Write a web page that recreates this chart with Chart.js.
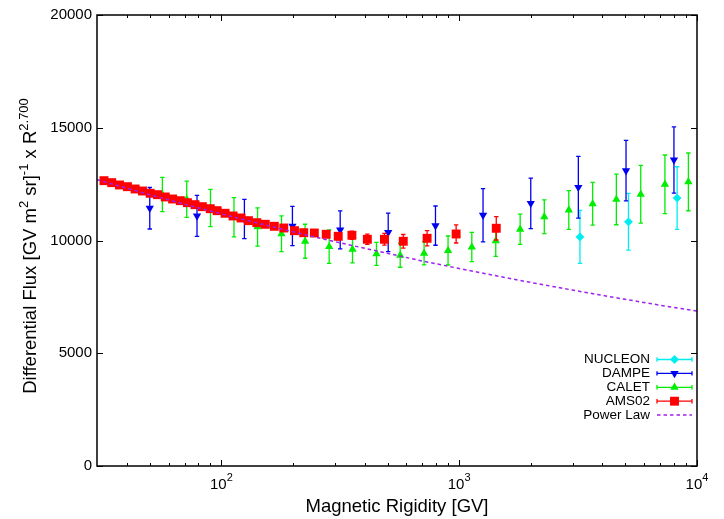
<!DOCTYPE html>
<html>
<head>
<meta charset="utf-8">
<script src="https://cdn.jsdelivr.net/npm/chart.js@4.4.0/dist/chart.umd.min.js"></script>
<style>
  html, body { margin: 0; padding: 0; background: #fff; }
  #wrap { width: 724px; height: 519px; }
</style>
</head>
<body>
<div id="wrap"><canvas id="fluxChart" width="724" height="519"></canvas></div>
<script>
// values (rigidity in GV, flux x R^2.7)
const amsR = [32.1, 34.6, 37.3, 40.3, 43.4, 46.6, 50.2, 53.9, 58.1, 62.4, 67.2, 72.0, 77.5, 83.2, 89.8, 96.0,
              103.7, 112, 121, 130, 141, 153, 167, 183, 203, 222, 246, 276, 310, 354, 411, 485, 582, 733, 971, 1432];
const amsF = [12653, 12565, 12462, 12387, 12285, 12196, 12094, 12032, 11930, 11841, 11766, 11677, 11589, 11500, 11411, 11323,
              11207, 11088, 10999, 10879, 10790, 10719, 10630, 10555, 10435, 10347, 10333, 10276, 10187, 10232, 10054, 10054, 9966, 10098, 10289, 10542];
const amsErr = [70, 70, 70, 70, 70, 70, 75, 75, 75, 80, 80, 80, 85, 85, 90, 90,
                95, 100, 100, 105, 110, 115, 120, 125, 130, 135, 140, 150, 160, 180, 230, 260, 300, 340, 400, 520];

const caletR = [56.5, 71.5, 90, 113, 142, 179, 225, 284, 356, 449, 565, 712, 898, 1130, 1425, 1805, 2280, 2890, 3640, 4580, 5800, 7330, 9200];
const caletF = [12040, 11830, 11440, 11030, 10600, 10300, 9966, 9726, 9611, 9411, 9345, 9430, 9557, 9710, 9990, 10500, 11050, 11350, 11630, 11820, 12050, 12490, 12600];
const caletErr = [760, 806, 828, 872, 850, 790, 754, 739, 600, 510, 532, 510, 643, 650, 690, 674, 749, 861, 950, 1122, 1280, 1302, 1280];

const dampeR = [50, 79, 125, 199, 316, 503, 795, 1260, 2000, 3170, 5030, 8000];
const dampeF = [11430, 11090, 10950, 10640, 10470, 10360, 10660, 11120, 11650, 12360, 13100, 13570];
const dampeErr = [920, 910, 870, 870, 840, 850, 870, 1180, 1120, 1370, 1340, 1470];

const nucleonR = [3220, 5150, 8250];
const nucleonF = [10160, 10830, 11880];
const nucleonErr = [1175, 1257, 1391];

const powerR = [30, 40, 50, 70, 100, 150, 200, 300, 500, 700, 1000, 1500, 2000, 3000, 5000, 7000, 10000];
const powerF = [12700, 12320, 12030, 11610, 11180, 10710, 10390, 9950, 9430, 9090, 8760, 8390, 8140, 7800, 7390, 7130, 6870];

const yTicks = [0, 5000, 10000, 15000, 20000];
const xMajorTicks = [100, 1000, 10000];
const xMajorLabels = ['2', '3', '4'];
const xMinorTicks = [40, 50, 60, 70, 80, 90, 200, 300, 400, 500, 600, 700, 800, 900,
                     2000, 3000, 4000, 5000, 6000, 7000, 8000, 9000];

const FONT = '"Liberation Sans", Arial, Helvetica, sans-serif';

function pts(xs, ys) {
  return xs.map((x, i) => ({ x: x, y: ys[i] }));
}

// error bars, drawn just before each dataset's own markers
const errorBars = {
  id: 'errorBars',
  beforeDatasetDraw(chart, args) {
    const ds = chart.data.datasets[args.index];
    if (!ds.errors) return;
    const ctx = chart.ctx;
    const xs = chart.scales.x, ys = chart.scales.y;
    ctx.save();
    ctx.strokeStyle = ds.borderColor;
    ctx.lineWidth = 1.3;
    ds.data.forEach((p, i) => {
      const e = ds.errors[i];
      const px = xs.getPixelForValue(p.x);
      const top = ys.getPixelForValue(p.y + e);
      const bot = ys.getPixelForValue(p.y - e);
      ctx.beginPath();
      ctx.moveTo(px, top); ctx.lineTo(px, bot);
      ctx.moveTo(px - 2.2, top); ctx.lineTo(px + 2.2, top);
      ctx.moveTo(px - 2.2, bot); ctx.lineTo(px + 2.2, bot);
      ctx.stroke();
    });
    ctx.restore();
  }
};

// gnuplot-like frame, inward ticks, x labels with exponents, axis titles and key
const frame = {
  id: 'frame',
  afterDraw(chart) {
    const ctx = chart.ctx;
    const ca = chart.chartArea;
    const xs = chart.scales.x, ys = chart.scales.y;
    ctx.save();
    ctx.strokeStyle = '#000';
    ctx.lineWidth = 1;
    ctx.beginPath();
    yTicks.forEach(v => {
      const py = Math.round(ys.getPixelForValue(v)) + 0.5;
      ctx.moveTo(ca.left, py); ctx.lineTo(ca.left + 6, py);
      ctx.moveTo(ca.right, py); ctx.lineTo(ca.right - 6, py);
    });
    xMajorTicks.forEach(v => {
      const px = Math.round(xs.getPixelForValue(v)) + 0.5;
      ctx.moveTo(px, ca.bottom); ctx.lineTo(px, ca.bottom - 6);
      ctx.moveTo(px, ca.top); ctx.lineTo(px, ca.top + 6);
    });
    xMinorTicks.forEach(v => {
      const px = Math.round(xs.getPixelForValue(v)) + 0.5;
      ctx.moveTo(px, ca.bottom); ctx.lineTo(px, ca.bottom - 3);
      ctx.moveTo(px, ca.top); ctx.lineTo(px, ca.top + 3);
    });
    ctx.stroke();
    ctx.lineWidth = 1.5;
    ctx.strokeRect(ca.left, ca.top, ca.right - ca.left, ca.bottom - ca.top);

    // x tick labels 10^n
    ctx.fillStyle = '#000';
    ctx.textBaseline = 'middle';
    ctx.textAlign = 'left';
    xMajorTicks.forEach((v, i) => {
      const px = xs.getPixelForValue(v);
      ctx.font = '15px ' + FONT;
      const wb = ctx.measureText('10').width;
      ctx.font = '11px ' + FONT;
      const we = ctx.measureText(xMajorLabels[i]).width;
      const x0 = px - (wb + we) / 2;
      ctx.font = '15px ' + FONT;
      ctx.fillText('10', x0, 485);
      ctx.font = '11px ' + FONT;
      ctx.fillText(xMajorLabels[i], x0 + wb, 478);
    });

    // x title
    ctx.font = '18.5px ' + FONT;
    ctx.textAlign = 'center';
    ctx.fillText('Magnetic Rigidity [GV]', (ca.left + ca.right) / 2, 507);

    // y title with superscripts
    const parts = [
      ['Differential Flux [GV m', false], ['2', true], [' sr]', false],
      ['-1', true], [' x R', false], ['2.700', true]
    ];
    let total = 0;
    parts.forEach(p => {
      ctx.font = (p[1] ? '13px ' : '18.5px ') + FONT;
      total += ctx.measureText(p[0]).width;
    });
    ctx.translate(31, 246);
    ctx.rotate(-Math.PI / 2);
    ctx.textAlign = 'left';
    let cx = -total / 2;
    parts.forEach(p => {
      ctx.font = (p[1] ? '13px ' : '18.5px ') + FONT;
      ctx.fillText(p[0], cx, p[1] ? -7 : 0);
      cx += ctx.measureText(p[0]).width;
    });
    ctx.restore();

    // key, bottom right inside the frame
    ctx.save();
    const keyItems = chart.data.datasets.slice().reverse();
    const textRight = 650, l0 = 657, l1 = 692, mid = 674.5;
    keyItems.forEach((ds, i) => {
      const y = 359.5 + i * 13.9;
      ctx.fillStyle = '#000';
      ctx.font = '13.5px ' + FONT;
      ctx.textAlign = 'right';
      ctx.textBaseline = 'middle';
      ctx.fillText(ds.label, textRight, y);
      ctx.strokeStyle = ds.borderColor;
      if (!ds.errors) {
        ctx.lineWidth = 1.5;
        ctx.setLineDash([3.5, 3]);
        ctx.beginPath(); ctx.moveTo(l0, y); ctx.lineTo(l1, y); ctx.stroke();
        ctx.setLineDash([]);
        return;
      }
      ctx.lineWidth = 1.3;
      ctx.beginPath();
      ctx.moveTo(l0, y); ctx.lineTo(l1, y);
      ctx.moveTo(l0, y - 2.2); ctx.lineTo(l0, y + 2.2);
      ctx.moveTo(l1, y - 2.2); ctx.lineTo(l1, y + 2.2);
      ctx.stroke();
      ctx.fillStyle = ds.backgroundColor;
      Chart.helpers.drawPoint(ctx, {
        pointStyle: ds.pointStyle,
        rotation: ds.pointRotation || 0,
        radius: ds.pointRadius,
        borderWidth: 0
      }, mid, y);
    });
    ctx.restore();
  }
};

const ctx = document.getElementById('fluxChart').getContext('2d');
new Chart(ctx, {
  type: 'scatter',
  data: {
    datasets: [
      {
        label: 'Power Law', type: 'line', data: pts(powerR, powerF),
        borderColor: '#a020f0', borderWidth: 1.5, borderDash: [3.5, 3],
        pointRadius: 0, fill: false, tension: 0
      },
      {
        label: 'AMS02', data: pts(amsR, amsF), errors: amsErr,
        pointStyle: 'rect', pointRadius: 6.3,
        backgroundColor: '#ff0000', borderColor: '#ff0000', borderWidth: 0
      },
      {
        label: 'CALET', data: pts(caletR, caletF), errors: caletErr,
        pointStyle: 'triangle', pointRadius: 4.8,
        backgroundColor: '#00ee00', borderColor: '#00ee00', borderWidth: 0
      },
      {
        label: 'DAMPE', data: pts(dampeR, dampeF), errors: dampeErr,
        pointStyle: 'triangle', pointRotation: 180, pointRadius: 4.8,
        backgroundColor: '#0000f0', borderColor: '#0000f0', borderWidth: 0
      },
      {
        label: 'NUCLEON', data: pts(nucleonR, nucleonF), errors: nucleonErr,
        pointStyle: 'rectRot', pointRadius: 4.4,
        backgroundColor: '#00eef0', borderColor: '#00eef0', borderWidth: 0
      }
    ]
  },
  options: {
    responsive: false,
    animation: false,
    devicePixelRatio: 1,
    layout: { padding: { left: 0, right: 27, top: 15, bottom: 0 } },
    plugins: { legend: { display: false }, tooltip: { enabled: false } },
    scales: {
      x: {
        type: 'logarithmic', min: 30, max: 10000,
        grid: { display: false, drawTicks: false },
        border: { display: false },
        ticks: { display: false },
        afterFit: function (s) { s.height = 53; }
      },
      y: {
        min: 0, max: 20000,
        grid: { display: false, drawTicks: false },
        border: { display: false },
        ticks: {
          stepSize: 5000, padding: 5, color: '#000',
          font: { family: FONT, size: 15 },
          callback: function (v) { return String(v); }
        },
        afterFit: function (s) { s.width = 97; }
      }
    }
  },
  plugins: [errorBars, frame]
});
</script>
</body>
</html>
